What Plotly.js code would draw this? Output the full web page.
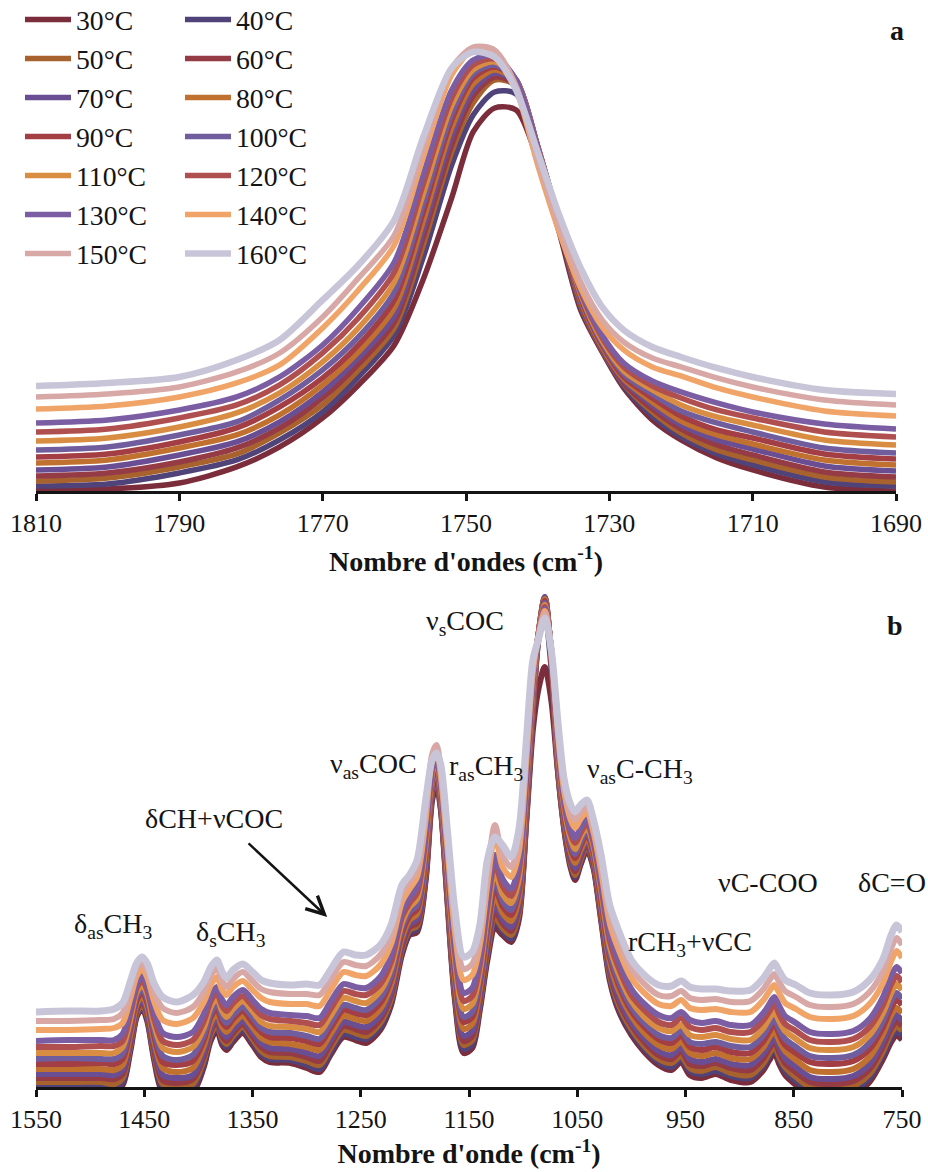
<!DOCTYPE html>
<html><head><meta charset="utf-8">
<script src="https://cdn.plot.ly/plotly-3.0.1.min.js"></script>
<style>html,body{margin:0;padding:0;background:#fff;} #chart{width:928px;height:1172px;}</style>
</head><body><div id="chart"></div>
<script>
const temperatures = ['30°C','40°C','50°C','60°C','70°C','80°C','90°C','100°C','110°C','120°C','130°C','140°C','150°C','160°C'];
const lineColors = ['#7B2D3B','#4F4379','#A8622E','#943B45','#6A4E94','#C0702F','#A33E45','#705D9E','#D98D42','#B04F50','#7A5DA3','#F0A468','#D7A8A6','#C9C5D8'];

// Panel a : C=O stretching region (intensity, arbitrary units)
const waveA = [1810,1800,1790,1782,1776,1770,1765,1760,1756,1752,1749,1746,1743,1740,1737,1734,1731,1728,1724,1720,1715,1710,1700,1690];
const a30  = [1,2,8,24,44,73,106,146,211,293,359,383,381,331,259,181,139,103,71,51,33,21,4,0];
const a40  = [5,7,18,31,51,79,114,156,233,326,376,399,397,339,263,184,140,105,75,54,37,26,9,5];
const a50  = [10,13,24,37,58,86,121,163,245,339,388,411,405,343,265,186,141,107,79,58,41,31,14,9];
const a60  = [15,18,29,43,63,93,127,169,253,346,395,414,406,343,266,188,142,108,82,62,46,36,19,14];
const a70  = [21,24,36,49,69,99,133,175,261,355,401,418,408,344,267,189,143,110,86,66,51,42,25,20];
const a80  = [28,31,43,56,76,106,139,183,269,363,407,421,409,344,268,191,144,112,89,70,56,47,31,26];
const a90  = [34,37,49,63,84,113,146,191,278,371,413,424,411,345,269,193,146,114,93,75,61,53,37,32];
const a100 = [41,44,56,69,91,121,154,199,286,377,417,426,411,345,270,195,148,117,97,80,68,59,43,38];
const a110 = [50,53,64,78,98,129,163,209,296,385,421,429,411,344,270,197,150,120,101,86,74,66,51,46];
const a120 = [59,62,73,86,106,138,173,219,306,393,426,432,411,344,271,199,153,124,105,93,81,73,59,54];
const a130 = [68,71,81,94,114,146,183,229,316,401,431,435,411,343,271,201,156,128,110,99,88,79,67,62];
const a140 = [82,85,94,108,126,163,201,246,333,416,441,439,401,326,259,203,164,141,124,115,103,94,80,75];
const a150 = [94,97,104,119,138,174,213,256,343,423,444,441,405,331,265,209,171,149,133,124,113,104,91,86];
const a160 = [105,108,114,131,151,191,226,271,353,423,439,434,401,339,276,223,184,161,144,134,123,114,101,97];

// Panel b : fingerprint region (intensity, arbitrary units)
const waveB = [1550,1520,1490,1478,1470,1463,1457,1452,1447,1441,1433,1420,1405,1395,1389,1383,1378,1374,1368,1359,1350,1342,1334,1315,1300,1288,1278,1266,1255,1245,1232,1222,1212,1205,1198,1190,1184,1180,1176,1170,1163,1155,1147,1140,1133,1126,1119,1111,1104,1097,1091,1086,1080,1074,1068,1062,1056,1052,1047,1041,1035,1028,1020,1012,1000,988,975,963,954,946,935,922,908,890,878,873,868,863,858,848,835,815,795,780,768,760,755,750];
const b30  = [-1,-1,-1,-3,2,35,70,79,65,28,-5,-8,-5,20,45,57,42,37,45,54,42,30,25,24,19,15,32,50,47,44,57,82,132,152,155,207,287,302,277,187,87,34,39,77,127,159,152,145,167,267,357,397,420,387,317,257,219,207,222,237,219,167,107,77,52,35,22,17,25,12,9,13,7,5,17,26,34,22,12,2,-8,-10,-7,5,27,45,52,47];
const b40  = [2,2,2,0,5,38,72,81,67,31,-1,-4,-1,23,48,60,45,40,48,57,45,33,28,27,22,18,35,53,50,48,60,85,135,154,158,210,292,306,279,190,91,38,43,80,131,165,156,148,171,270,374,446,475,420,319,259,222,210,224,239,221,170,110,80,55,38,25,20,28,16,13,16,11,9,21,30,38,26,16,6,-4,-6,-3,9,31,49,56,51];
const b50  = [5,5,5,3,9,41,74,83,70,34,3,-1,3,27,51,63,48,43,51,60,48,36,31,30,26,22,39,57,54,51,64,88,138,157,161,213,295,309,281,193,94,42,47,84,135,170,159,152,174,273,378,449,489,428,321,261,224,212,227,241,223,172,113,83,58,41,28,24,31,19,16,20,14,12,24,33,41,29,20,10,0,-2,1,13,35,54,61,56];
const b60  = [9,9,9,8,13,44,77,86,73,38,7,4,8,31,55,66,51,46,54,63,51,40,35,34,30,26,43,61,58,55,68,92,141,160,164,217,298,312,283,196,99,46,51,88,140,177,164,156,179,277,382,450,490,430,323,263,227,216,230,243,225,175,117,87,62,45,32,28,36,23,21,24,19,17,29,38,46,34,24,15,5,3,6,18,40,59,66,61];
const b70  = [13,13,13,12,17,48,80,88,75,42,12,9,12,35,58,70,55,50,58,66,55,44,39,38,34,31,47,65,62,60,72,96,145,163,168,221,302,315,285,200,103,51,56,92,145,184,168,160,183,281,386,451,490,431,326,266,230,219,233,246,228,179,120,91,65,49,36,32,40,28,25,28,23,22,34,42,50,39,29,20,10,8,11,23,45,64,72,66];
const b80  = [18,18,18,17,22,52,83,92,79,47,19,15,19,41,63,74,60,55,63,71,60,49,45,43,40,37,53,71,68,66,78,102,149,167,173,227,305,318,288,204,109,58,63,98,152,192,174,166,189,287,390,451,488,432,329,269,235,224,237,249,231,183,126,97,71,54,42,38,45,34,31,34,29,28,40,49,56,45,36,27,17,15,18,30,52,72,79,74];
const b90  = [23,23,24,23,28,57,87,95,84,52,25,22,26,47,69,79,65,60,68,76,65,55,50,49,46,43,59,77,74,72,84,108,154,171,178,233,309,321,291,209,116,65,70,104,159,200,181,172,196,293,394,451,486,433,333,273,239,229,241,253,234,188,131,103,76,60,48,44,51,40,37,40,35,34,46,55,63,52,42,34,25,23,26,38,59,79,87,82];
const b100 = [28,29,28,28,33,62,91,98,87,57,31,27,32,52,73,84,70,64,72,80,70,59,55,54,51,48,64,82,79,77,89,112,159,175,182,237,312,324,294,214,121,70,75,109,165,208,186,177,201,297,398,451,484,434,336,276,243,233,245,256,237,192,135,107,80,64,52,49,56,45,43,45,41,40,52,61,68,57,48,40,31,29,32,44,65,86,94,88];
const b110 = [34,34,34,34,40,67,95,102,92,63,39,35,40,59,79,89,76,70,78,86,76,65,61,60,58,55,71,89,86,84,96,119,164,180,188,244,315,327,298,219,128,78,83,116,173,216,193,184,208,304,402,451,482,435,340,280,248,238,250,260,241,197,141,114,86,70,59,56,62,52,50,52,48,47,59,68,75,65,56,48,39,37,40,52,73,94,103,97];
const b120 = [40,40,41,41,46,73,99,107,96,69,46,42,47,66,85,95,81,76,84,91,81,72,68,66,64,62,78,96,93,92,103,125,170,184,194,250,318,330,301,225,136,86,91,123,181,224,201,191,216,310,406,450,480,436,344,284,253,244,254,264,245,202,147,120,92,77,65,62,69,60,57,59,55,55,67,75,83,72,63,56,47,45,48,60,81,103,111,105];
const b130 = [46,47,47,47,53,78,103,111,101,75,54,50,55,73,91,100,87,82,90,97,87,78,74,72,71,69,85,103,100,99,110,132,175,189,200,257,322,333,305,230,143,94,99,130,189,232,208,198,223,317,410,450,478,437,348,288,258,249,259,268,249,207,153,127,98,83,72,69,75,67,64,66,62,62,74,82,90,80,71,64,55,53,56,68,89,111,120,114];
const b140 = [57,57,58,59,64,88,111,118,109,86,67,63,69,85,101,110,97,92,100,106,97,89,85,83,83,81,97,115,112,111,122,143,185,198,210,268,330,337,311,240,155,107,112,142,203,252,220,210,235,328,416,450,476,438,355,295,267,259,268,275,255,216,164,138,109,94,83,81,87,79,77,78,75,75,87,95,102,93,84,78,70,68,71,83,103,126,136,129];
const b150 = [66,66,67,68,74,97,118,124,116,95,79,74,80,95,110,119,106,100,108,115,106,98,95,93,93,92,107,125,122,121,132,152,194,205,218,277,333,342,317,249,166,118,123,152,215,262,231,220,246,337,422,449,473,438,361,301,274,267,275,281,261,224,173,147,118,103,92,91,96,89,87,88,85,86,98,106,113,104,96,90,82,80,83,95,115,139,149,142];
const b160 = [75,76,76,78,84,105,124,130,123,104,90,85,92,105,119,127,115,109,117,123,115,107,104,102,103,102,117,135,132,132,142,162,202,212,227,287,327,334,322,257,177,130,135,162,227,250,242,230,257,347,427,447,469,437,367,307,282,275,282,287,267,232,182,157,127,112,102,101,106,100,98,98,96,97,109,117,124,115,107,102,94,92,95,107,127,152,162,155];

const seriesA = [a30,a40,a50,a60,a70,a80,a90,a100,a110,a120,a130,a140,a150,a160];
const seriesB = [b30,b40,b50,b60,b70,b80,b90,b100,b110,b120,b130,b140,b150,b160];
const tickA = [1810,1790,1770,1750,1730,1710,1690];
const tickB = [1550,1450,1350,1250,1150,1050,950,850,750];

const SERIF = 'Liberation Serif, Times New Roman, serif';
const INK = '#141414';

const traces = [];
seriesA.forEach((ys, i) => {
  traces.push({
    x: waveA, y: ys, xaxis: 'x', yaxis: 'y', type: 'scatter', mode: 'lines',
    name: temperatures[i], legend: i % 2 === 0 ? 'legend' : 'legend2',
    line: {color: lineColors[i], width: i === 13 ? 6.5 : 5.5, shape: 'spline', smoothing: 0.8},
    hoverinfo: 'skip'
  });
});
seriesB.forEach((ys, i) => {
  traces.push({
    x: waveB, y: ys, xaxis: 'x2', yaxis: 'y2', type: 'scatter', mode: 'lines',
    name: temperatures[i], showlegend: false,
    line: {color: lineColors[i], width: i === 13 ? 7 : 6, shape: 'spline', smoothing: 0.8},
    hoverinfo: 'skip'
  });
});

const axisCommon = {
  showline: true, linecolor: INK, linewidth: 3, mirror: false,
  ticks: 'outside', ticklen: 7, tickwidth: 3, tickcolor: INK,
  tickfont: {family: SERIF, size: 26, color: INK},
  showgrid: false, zeroline: false, automargin: false, fixedrange: true
};
const hiddenY = {visible: false, showgrid: false, zeroline: false, fixedrange: true};

const annFont = {family: SERIF, size: 28, color: INK};
function lab(text, x, y) {
  return {text: text, x: x, y: y, xref: 'x2', yref: 'y2', showarrow: false, font: annFont, xanchor: 'center', yanchor: 'middle'};
}
const legendFont = {family: SERIF, size: 27.7, color: INK};

const layout = {
  width: 928, height: 1172,
  paper_bgcolor: '#ffffff', plot_bgcolor: '#ffffff',
  margin: {l: 36, r: 26, t: 0, b: 0, autoexpand: false},
  showlegend: true,
  xaxis: Object.assign({}, axisCommon, {
    domain: [0, 0.99307], anchor: 'y', range: [1810, 1690], tickvals: tickA,
    title: {text: "<b>Nombre d'ondes (cm<sup>-1</sup>)</b>", font: {family: SERIF, size: 28, color: INK}, standoff: 15}
  }),
  yaxis: Object.assign({}, hiddenY, {domain: [0.5811, 0.98294], anchor: 'x', range: [0, 471]}),
  xaxis2: Object.assign({}, axisCommon, {
    domain: [0, 1], anchor: 'y2', range: [1550, 750], tickvals: tickB,
    title: {text: "<b>Nombre d'onde (cm<sup>-1</sup>)</b>", font: {family: SERIF, size: 28, color: INK}, standoff: 11}
  }),
  yaxis2: Object.assign({}, hiddenY, {domain: [0.072526, 0.500853], anchor: 'x2', range: [0, 502]}),
  legend: {x: -0.01848, y: 1.0043, xanchor: 'left', yanchor: 'top', xref: 'paper', yref: 'paper',
           bgcolor: 'rgba(0,0,0,0)', borderwidth: 0, font: legendFont, itemwidth: 46},
  legend2: {x: 0.16628, y: 1.0043, xanchor: 'left', yanchor: 'top', xref: 'paper', yref: 'paper',
           bgcolor: 'rgba(0,0,0,0)', borderwidth: 0, font: legendFont, itemwidth: 46},
  annotations: [
    {text: '<b>a</b>', x: 0.9942, y: 0.9744, xref: 'paper', yref: 'paper', showarrow: false, font: annFont, xanchor: 'center', yanchor: 'middle'},
    {text: '<b>b</b>', x: 0.992, y: 0.4667, xref: 'paper', yref: 'paper', showarrow: false, font: annFont, xanchor: 'center', yanchor: 'middle'},
    lab('ν<sub>s</sub>COC', 1153.7, 465),
    lab('ν<sub>as</sub>COC', 1237.8, 322),
    lab('r<sub>as</sub>CH<sub>3</sub>', 1134.3, 320),
    lab('ν<sub>as</sub>C-CH<sub>3</sub>', 992, 317),
    lab('δCH+νCOC', 1385.6, 269),
    lab('δ<sub>as</sub>CH<sub>3</sub>', 1478.9, 162),
    lab('δ<sub>s</sub>CH<sub>3</sub>', 1369.9, 154),
    lab('rCH<sub>3</sub>+νCC', 945.8, 144),
    lab('νC-COO', 873.8, 205),
    lab('δC=O', 759.2, 205),
    {text: '', x: 1281, y: 170, ax: 1355, ay: 245, xref: 'x2', yref: 'y2', axref: 'x2', ayref: 'y2',
     showarrow: true, arrowhead: 5, arrowsize: 1.4, arrowwidth: 2.5, arrowcolor: INK}
  ]
};

Plotly.newPlot('chart', traces, layout, {staticPlot: true, displayModeBar: false});
</script>
</body></html>
